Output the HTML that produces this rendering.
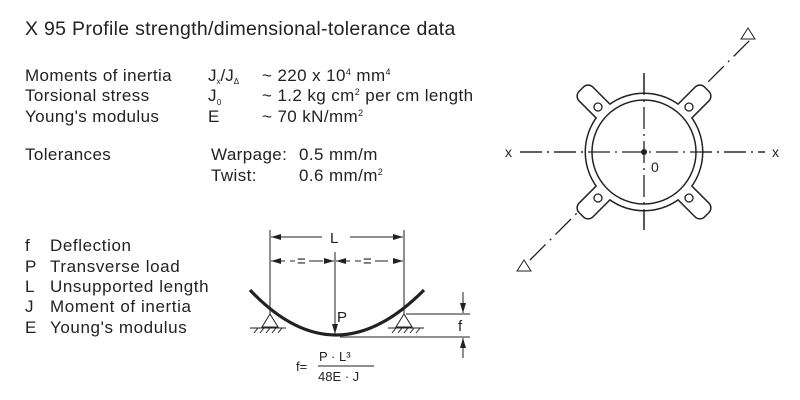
<!DOCTYPE html>
<html><head><meta charset="utf-8"><style>
html,body{margin:0;padding:0;background:#fff;}
svg{display:block;font-family:"Liberation Sans",sans-serif;}
</style></head><body>
<svg width="800" height="400" viewBox="0 0 800 400" xmlns="http://www.w3.org/2000/svg">
<defs>
<marker id="a" viewBox="0 0 10 6" refX="10" refY="3" markerWidth="10" markerHeight="6" orient="auto-start-reverse" markerUnits="userSpaceOnUse"><path d="M0,0 L10,3 L0,6 z" fill="#222"/></marker>
</defs>
<g fill="#222" font-size="17" letter-spacing="0.4">
<text x="25" y="35" font-size="19.5" letter-spacing="0.3">X 95 Profile strength/dimensional-tolerance data</text>
<text x="25" y="81">Moments of inertia</text>
<text x="208" y="81" letter-spacing="0">J<tspan font-size="8" dy="3">x</tspan><tspan dy="-3">/J</tspan><tspan font-size="8" dy="3">Δ</tspan></text>
<text x="262" y="81">~ 220 x 10<tspan font-size="9" dy="-6">4</tspan><tspan dy="6"> mm</tspan><tspan font-size="9" dy="-6">4</tspan></text>
<text x="25" y="101">Torsional stress</text>
<text x="208" y="101">J<tspan font-size="8" dy="4">0</tspan></text>
<text x="262" y="101">~ 1.2 kg cm<tspan font-size="9" dy="-6">2</tspan><tspan dy="6"> per cm length</tspan></text>
<text x="25" y="122">Young's modulus</text>
<text x="208" y="122">E</text>
<text x="262" y="122">~ 70 kN/mm<tspan font-size="9" dy="-6">2</tspan></text>
<text x="25" y="160">Tolerances</text>
<text x="211" y="160">Warpage:</text><text x="299" y="160">0.5 mm/m</text>
<text x="211" y="181">Twist:</text><text x="299" y="181">0.6 mm/m<tspan font-size="9" dy="-6">2</tspan></text>
<g letter-spacing="0.6">
<text x="25" y="251">f</text><text x="50" y="251">Deflection</text>
<text x="25" y="272">P</text><text x="50" y="272">Transverse load</text>
<text x="25" y="292">L</text><text x="50" y="292">Unsupported length</text>
<text x="25" y="312">J</text><text x="50" y="312">Moment of inertia</text>
<text x="25" y="333">E</text><text x="50" y="333">Young's modulus</text>
</g>
</g>
<!-- beam -->
<g stroke="#222" fill="none" stroke-width="1">
<line x1="270" y1="230" x2="270" y2="315"/><line x1="404" y1="230" x2="404" y2="315"/>
<line x1="271" y1="237" x2="322" y2="237" marker-start="url(#a)"/><line x1="350" y1="237" x2="403" y2="237" marker-end="url(#a)"/>
<line x1="271" y1="261" x2="334" y2="261" stroke-dasharray="14,5" marker-start="url(#a)" marker-end="url(#a)"/>
<line x1="336" y1="261" x2="403" y2="261" stroke-dasharray="14,5" marker-start="url(#a)" marker-end="url(#a)"/>
<line x1="335" y1="252" x2="335" y2="334" marker-end="url(#a)"/>
<path d="M250,290 Q335,380 424,290" stroke-width="3.2"/>
<path d="M270,314 L262,327 L278,327 Z M404,314 L396,327 L412,327 Z"/>
<line x1="250" y1="328" x2="286" y2="328"/><line x1="388" y1="328" x2="424" y2="328"/>
<path d="M254,333 l4,-5 M260,333 l4,-5 M266,333 l4,-5 M272,333 l4,-5 M278,333 l4,-5 M392,333 l4,-5 M398,333 l4,-5 M404,333 l4,-5 M410,333 l4,-5 M416,333 l4,-5"/>
<line x1="406" y1="314" x2="470" y2="314"/><line x1="340" y1="337" x2="470" y2="337"/>
<line x1="463" y1="292" x2="463" y2="313" marker-end="url(#a)"/>
<line x1="463" y1="358" x2="463" y2="338" marker-end="url(#a)"/>
<line x1="318" y1="366" x2="374" y2="366"/>
</g>
<rect x="295" y="254" width="14" height="14" fill="#fff"/>
<rect x="361" y="254" width="14" height="14" fill="#fff"/>
<g fill="#222" font-size="15">
<text x="330" y="243">L</text>
<text x="297" y="266">=</text><text x="363" y="266">=</text>
<text x="337" y="322">P</text><text x="458" y="331">f</text>
<text x="296" y="371" font-size="13">f=</text>
<text x="319" y="361" font-size="13">P · L³</text>
<text x="318" y="381" font-size="13">48E · J</text>
</g>
<!-- profile -->
<g stroke="#222" fill="none" stroke-width="1.3">
<line x1="520" y1="152" x2="765" y2="152" stroke-dasharray="22,5,2,5"/>
<line x1="644" y1="73" x2="644" y2="230" stroke-dasharray="22,5,2,5"/>
<line x1="530" y1="260" x2="750" y2="40" stroke-dasharray="22,6,2,6"/>
<path d="M748,28 L755,39 L741,39 Z M524,260 L531,271 L517,271 Z" stroke-width="1"/>
</g>
<g>
<g stroke="#222" stroke-width="3" fill="#fff">
<circle cx="644" cy="152" r="58"/>
<g transform="rotate(45 644 152)"><rect x="556" y="143" width="176" height="18" rx="6"/></g>
<g transform="rotate(-45 644 152)"><rect x="556" y="143" width="176" height="18" rx="6"/></g>
</g>
<g fill="#fff">
<circle cx="644" cy="152" r="58"/>
<g transform="rotate(45 644 152)"><rect x="556" y="143" width="176" height="18" rx="6"/></g>
<g transform="rotate(-45 644 152)"><rect x="556" y="143" width="176" height="18" rx="6"/></g>
</g>
<circle cx="644" cy="152" r="52" stroke="#222" stroke-width="1.5" fill="none"/>
<g stroke="#222" fill="none" stroke-width="1.3">
<line x1="520" y1="152" x2="765" y2="152" stroke-dasharray="22,5,2,5"/>
<line x1="644" y1="73" x2="644" y2="230" stroke-dasharray="22,5,2,5"/>
<circle cx="598" cy="107" r="4"/><circle cx="689" cy="107" r="4"/>
<circle cx="598" cy="198" r="4"/><circle cx="689" cy="198" r="4"/>
</g>
<circle cx="644" cy="152" r="3" fill="#222"/>
<text x="651" y="172" font-size="14" fill="#222">0</text>
<text x="505" y="157" font-size="14" fill="#222">x</text>
<text x="772" y="157" font-size="14" fill="#222">x</text>
</g>
</svg>
</body></html>
